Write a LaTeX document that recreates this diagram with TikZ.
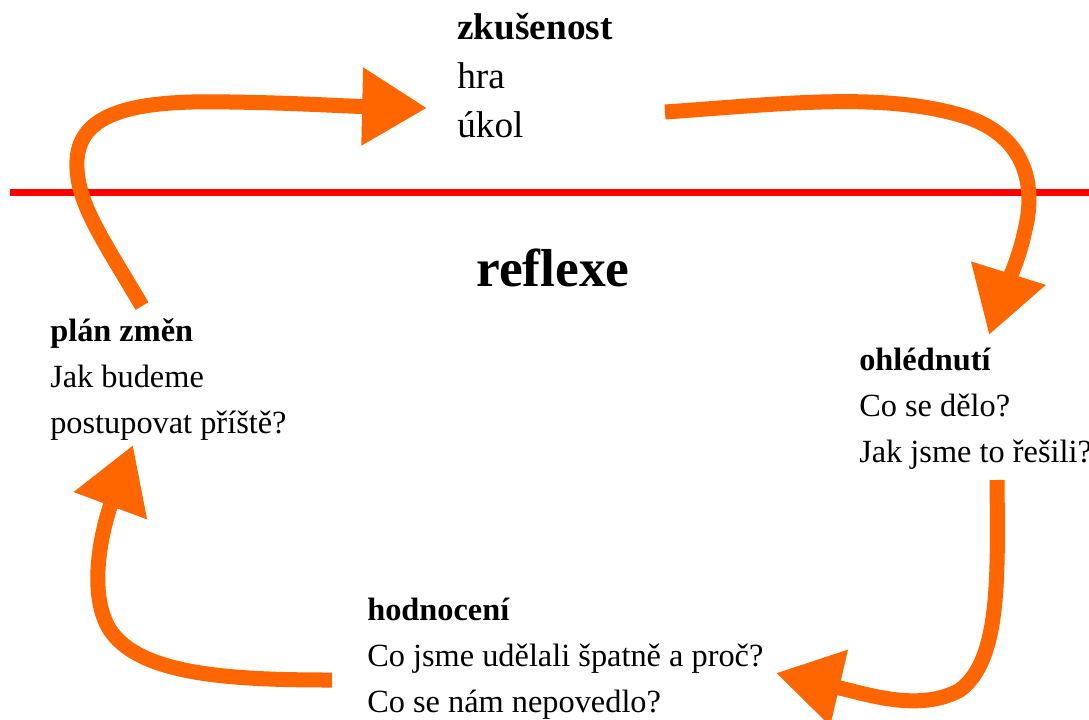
\documentclass[tikz,border=0pt]{standalone}
\usepackage{fontspec}
\setmainfont{Liberation Serif}
\usepackage{tikz}
\usetikzlibrary{arrows.meta,positioning}
\definecolor{myorange}{HTML}{FF6600}

\begin{document}
\begin{tikzpicture}[
  x=0.025cm, y=-0.025cm,
  mytext/.style={anchor=base west,inner sep=0pt,align=left,font=\fontsize{23pt}{32.7pt}\selectfont},
  mytitle/.style={anchor=base west,inner sep=0pt,font=\fontsize{38pt}{40pt}\selectfont\bfseries},
  myarrow/.style={draw=myorange,line width=0.375cm,
    -{Triangle[length=1.62cm,width=1.85cm,fill=myorange]}}
]
\useasboundingbox (0,0) rectangle (1089,719);
\node[mytext,font=\fontsize{26.5pt}{34.8pt}\selectfont] (exp) at (457,137) {\textbf{zkušenost}\\hra\\úkol};
\node[mytitle] (refl) at (476,286) {reflexe};
\node[mytext] (plan) at (50,433) {\textbf{plán změn}\\Jak budeme\\postupovat příště?};
\node[mytext] (look) at (859,462) {\textbf{ohlédnutí}\\Co se dělo?\\Jak jsme to řešili?};
\node[mytext] (eval) at (367,712) {\textbf{hodnocení}\\Co jsme udělali špatně a proč?\\Co se nám nepovedlo?};
\coordinate (l1) at (10,192);
\coordinate (l2) at (1089,192);
\draw[red,line width=0.175cm] (l1) -- (l2);
\coordinate (a1s) at (142,306);
\coordinate (a1e) at (427,108);
\coordinate (a2s) at (665,112);
\coordinate (a2e) at (989,335);
\coordinate (a3s) at (997,480);
\coordinate (a3e) at (776,673);
\coordinate (a4s) at (332,680);
\coordinate (a4e) at (133,445);
\path[myarrow] (a1s) .. controls (100,235) and (75,200) .. (77,160)
  .. controls (80,110) and (140,100) .. (230,102)
  .. controls (300,103) and (340,106) .. (a1e);
\path[myarrow] (a2s) .. controls (780,104) and (880,92) .. (960,115)
  .. controls (1030,135) and (1035,190) .. (1025,230)
  .. controls (1018,265) and (1000,300) .. (a2e);
\path[myarrow] (a3s) .. controls (998,580) and (1000,660) .. (960,690)
  .. controls (920,712) and (870,695) .. (a3e);
\path[myarrow] (a4s) .. controls (230,680) and (140,675) .. (110,630)
  .. controls (85,590) and (105,520) .. (a4e);
\end{tikzpicture}
\end{document}
